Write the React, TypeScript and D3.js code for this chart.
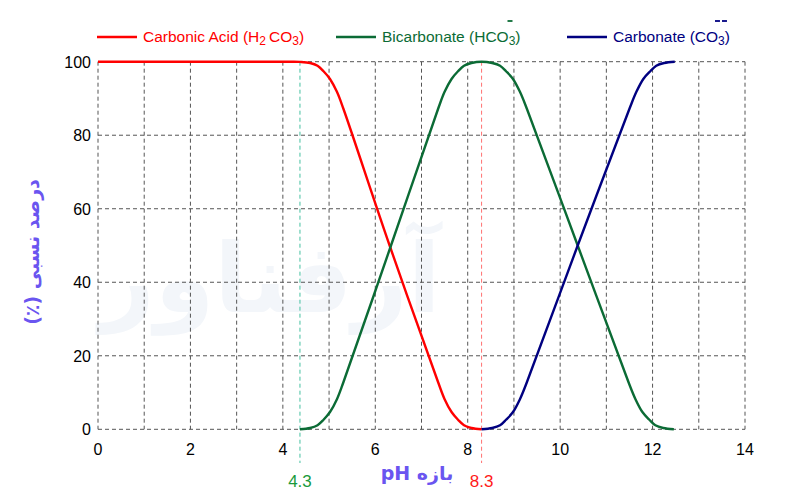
import React, { useEffect, useRef } from "react";
import * as d3 from "d3";

// ---- data ----
const xTicks: number[] = [0, 2, 4, 6, 8, 10, 12, 14];
const yTicks: number[] = [0, 20, 40, 60, 80, 100];
const xGrid: number[] = [0, 1, 2, 3, 4, 5, 6, 7, 8, 9, 10, 11, 12, 13, 14];

const carbonicAcid: [number, number][] = [
  [0, 100], [2, 100], [4, 100], [4.2, 100], [4.37, 99.95], [4.59, 99.65], [4.75, 98.9], [4.88, 97.4], [5.02, 95.3],
  [5.17, 91.8], [5.31, 87.2], [6.31, 50], [7.36, 12.8], [7.5, 8.2], [7.65, 4.7],
  [7.79, 2.6], [7.92, 1.1], [8.08, 0.35], [8.3, 0],
];
const bicarbonate: [number, number][] = [
  [4.37, 0], [4.59, 0.35], [4.75, 1.1], [4.88, 2.6], [5.02, 4.7], [5.17, 8.2], [5.31, 12.8],
  [6.34, 50], [7.36, 87.2], [7.5, 91.8], [7.65, 95.3], [7.79, 97.4], [7.92, 98.9],
  [8.08, 99.65], [8.3, 100], [8.53, 99.65], [8.7, 98.9], [8.83, 97.4], [8.98, 95.3],
  [9.13, 91.8], [9.28, 87.2], [10.38, 50], [11.48, 12.8], [11.63, 8.2], [11.78, 4.7],
  [11.93, 2.6], [12.06, 1.1], [12.23, 0.35], [12.46, 0],
];
const carbonate: [number, number][] = [
  [8.3, 0], [8.53, 0.35], [8.7, 1.1], [8.83, 2.6], [8.98, 4.7], [9.13, 8.2], [9.28, 12.8],
  [10.38, 50], [11.5, 87.2], [11.65, 91.8], [11.8, 95.3], [11.95, 97.4], [12.08, 98.9],
  [12.25, 99.65], [12.48, 100],
];

const seriesNames: string[] = ["Carbonic Acid (H", "Bicarbonate (HCO", "Carbonate (CO"];
const seriesColors: string[] = ["#ff0000", "#0b6b35", "#000080"];
const refValues: number[] = [4.37, 8.3];
const refLabels: string[] = ["4.3", "8.3"];
const refLineColors: string[] = ["#45c0a0", "#ff7070"];
const refLabelColors: string[] = ["#1a9a3c", "#ff1a1a"];
const xTitle = "بازه pH";
const yTitle = "درصد نسبی (٪)";
const watermark = "آرفناور";

export default function App() {
  const ref = useRef<SVGSVGElement | null>(null);

  useEffect(() => {
    const svg = d3.select(ref.current);
    svg.selectAll("*").remove();
    const left = 98, right = 745, top = 61.7, bottom = 429.3;
    const x = d3.scaleLinear().domain([0, 14]).range([left, right]);
    const y = d3.scaleLinear().domain([0, 100]).range([bottom, top]);
    const font = "'Liberation Sans', Arial, sans-serif";

    svg.append("rect").attr("width", 800).attr("height", 500).attr("fill", "#fff");

    // watermark
    svg.append("text")
      .attr("x", 270).attr("y", 312)
      .attr("text-anchor", "middle")
      .attr("direction", "rtl")
      .attr("font-family", "'DejaVu Sans', sans-serif")
      .attr("font-weight", "bold")
      .attr("font-size", 96)
      .attr("fill", "#f3f6fa")
      .text(watermark);

    // grid
    const g = svg.append("g");
    g.selectAll("line.vx").data(xGrid).join("line")
      .attr("x1", (d) => x(d)).attr("x2", (d) => x(d))
      .attr("y1", top).attr("y2", bottom)
      .attr("stroke", "#555").attr("stroke-width", 1).attr("stroke-dasharray", "4,3");
    g.selectAll("line.hy").data(yTicks).join("line")
      .attr("x1", left).attr("x2", right)
      .attr("y1", (d) => y(d)).attr("y2", (d) => y(d))
      .attr("stroke", "#555").attr("stroke-width", 1).attr("stroke-dasharray", "4,3");

    // reference lines
    refValues.forEach((v, i) => {
      svg.append("line")
        .attr("x1", x(v)).attr("x2", x(v)).attr("y1", top).attr("y2", 463)
        .attr("stroke", refLineColors[i]).attr("stroke-width", 1).attr("stroke-dasharray", "4,3");
      svg.append("text")
        .attr("x", x(v)).attr("y", 487)
        .attr("text-anchor", "middle")
        .attr("font-family", font).attr("font-size", 17)
        .attr("fill", refLabelColors[i])
        .text(refLabels[i]);
    });

    // tick labels
    svg.selectAll("text.xt").data(xTicks).join("text")
      .attr("x", (d) => x(d)).attr("y", 455)
      .attr("text-anchor", "middle")
      .attr("font-family", font).attr("font-size", 16).attr("fill", "#000")
      .text((d) => String(d));
    svg.selectAll("text.yt").data(yTicks).join("text")
      .attr("x", 91).attr("y", (d) => y(d) + 6)
      .attr("text-anchor", "end")
      .attr("font-family", font).attr("font-size", 16).attr("fill", "#000")
      .text((d) => String(d));

    // curves
    const line = d3.line<[number, number]>()
      .x((d) => x(d[0])).y((d) => y(d[1]))
      .curve(d3.curveCatmullRom.alpha(0.5));
    [carbonicAcid, bicarbonate, carbonate].forEach((s, i) => {
      svg.append("path").attr("d", line(s) as string)
        .attr("fill", "none").attr("stroke", seriesColors[i]).attr("stroke-width", 2.4)
        .attr("stroke-linejoin", "round");
    });

    // titles
    svg.append("text")
      .attr("x", 417).attr("y", 480)
      .attr("text-anchor", "middle").attr("direction", "rtl")
      .attr("font-family", "'DejaVu Sans', sans-serif").attr("font-weight", "bold")
      .attr("font-size", 19).attr("fill", "#6a55f0")
      .text(xTitle);
    svg.append("text")
      .attr("transform", "translate(39,252) rotate(-90)")
      .attr("text-anchor", "middle").attr("direction", "rtl")
      .attr("font-family", "'DejaVu Sans', sans-serif").attr("font-weight", "bold")
      .attr("font-size", 19).attr("fill", "#6a55f0")
      .text(yTitle);

    // legend
    const legX = [97, 336, 567];
    const legY = 37;
    seriesNames.forEach((name, i) => {
      svg.append("line")
        .attr("x1", legX[i]).attr("x2", legX[i] + 40).attr("y1", legY).attr("y2", legY)
        .attr("stroke", seriesColors[i]).attr("stroke-width", 2.4);
      const t = svg.append("text")
        .attr("x", legX[i] + 46).attr("y", legY + 5)
        .attr("font-family", font).attr("font-size", 15.5).attr("fill", seriesColors[i]);
      t.append("tspan").text(name);
      if (i === 0) {
        t.append("tspan").attr("font-size", 12).attr("dy", 3).text("2");
        t.append("tspan").attr("dy", -3).attr("dx", 3).text("CO");
      }
      t.append("tspan").attr("font-size", 12).attr("dy", 3).text("3");
      t.append("tspan").attr("dy", -3).text(")");
      const node = t.node() as SVGTextElement;
      const w = node.getComputedTextLength();
      if (i === 1) {
        svg.append("line")
          .attr("x1", legX[i] + 46 + w - 13).attr("x2", legX[i] + 46 + w - 8)
          .attr("y1", 21).attr("y2", 21)
          .attr("stroke", seriesColors[i]).attr("stroke-width", 1.8);
      }
      if (i === 2) {
        [0, 7].forEach((o) => {
          svg.append("line")
            .attr("x1", legX[i] + 46 + w - 15 + o).attr("x2", legX[i] + 46 + w - 10 + o)
            .attr("y1", 21).attr("y2", 21)
            .attr("stroke", seriesColors[i]).attr("stroke-width", 1.8);
        });
      }
    });
  }, []);

  return (
    <svg
      ref={ref}
      width={800}
      height={500}
      style={{ position: "absolute", left: 0, top: 0 }}
    />
  );
}
